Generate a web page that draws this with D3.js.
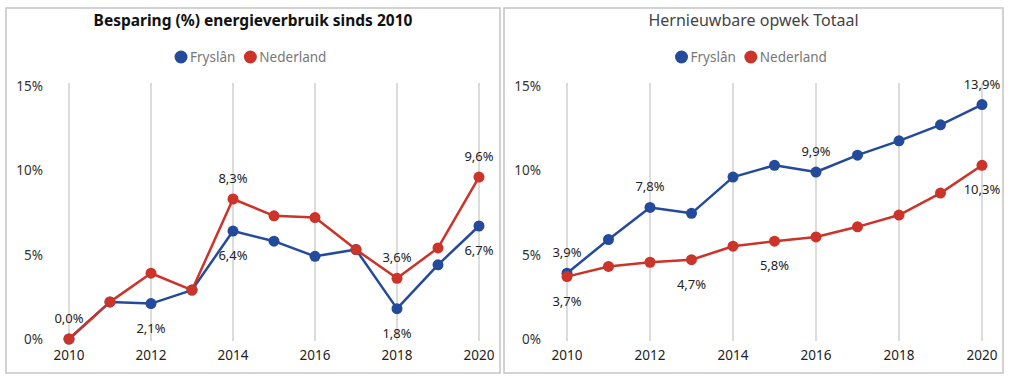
<!DOCTYPE html>
<html>
<head>
<meta charset="utf-8">
<script src="https://cdn.jsdelivr.net/npm/d3@7"></script>
<style>
  body { margin: 0; background: #fff; font-family: "Noto Sans", "Open Sans", sans-serif; }
</style>
</head>
<body>
<div id="chart"></div>
<script>
const years = [2010, 2011, 2012, 2013, 2014, 2015, 2016, 2017, 2018, 2019, 2020];
const yTicks = [0, 5, 10, 15];
const xTicks = [2010, 2012, 2014, 2016, 2018, 2020];

// besparing energieverbruik (%)
const besparingFryslan = [0.0, 2.2, 2.1, 2.9, 6.4, 5.8, 4.9, 5.3, 1.8, 4.4, 6.7];
const besparingNederland = [0.0, 2.2, 3.9, 2.9, 8.3, 7.3, 7.2, 5.3, 3.6, 5.4, 9.6];
// hernieuwbare opwek (%)
const opwekFryslan = [3.9, 5.9, 7.8, 7.45, 9.6, 10.3, 9.9, 10.9, 11.75, 12.7, 13.9];
const opwekNederland = [3.7, 4.3, 4.55, 4.7, 5.5, 5.8, 6.05, 6.65, 7.35, 8.65, 10.3];

// which points get a data label, and where
const besparingLabels = {
  fry: [2012, 2014, 2018, 2020], fryPos: 'below',
  ned: [2010, 2014, 2018, 2020], nedPos: 'above'
};
const opwekLabels = {
  fry: [2010, 2012, 2016, 2020], fryPos: 'above',
  ned: [2010, 2013, 2015, 2020], nedPos: 'below'
};

const blue = '#244b9b';
const red = '#cc3329';
const fmt = v => d3.format('.1f')(v).replace('.', ',') + '%';

const svg = d3.select('#chart').append('svg')
  .attr('width', 1016)
  .attr('height', 386);

function panel(opts) {
  const g = svg.append('g').attr('transform', `translate(${opts.left},0)`);

  g.append('rect')
    .attr('x', 0).attr('y', 8)
    .attr('width', opts.width).attr('height', 365)
    .attr('fill', '#fff')
    .attr('stroke', '#c4c4c4')
    .attr('stroke-width', 1.5);

  g.append('text')
    .attr('x', opts.width / 2)
    .attr('y', 26)
    .attr('text-anchor', 'middle')
    .attr('font-size', opts.bold ? 15.5 : 16)
    .attr('font-weight', opts.bold ? 700 : 400)
    .attr('fill', opts.bold ? '#111' : '#444')
    .text(opts.title);

  // legend
  const leg = g.append('g').attr('transform', `translate(${opts.width / 2},57)`);
  const items = [{name: 'Fryslân', color: blue}, {name: 'Nederland', color: red}];
  let lx = -72;
  items.forEach(it => {
    leg.append('circle').attr('cx', lx).attr('cy', 0).attr('r', 6.5).attr('fill', it.color);
    const t = leg.append('text')
      .attr('x', lx + 9).attr('y', 0)
      .attr('dominant-baseline', 'central')
      .attr('font-size', 13.5)
      .attr('fill', '#777')
      .text(it.name);
    lx += 9 + t.node().getComputedTextLength() + 15;
  });

  const x = d3.scaleLinear().domain([2010, 2020]).range([opts.x0, opts.x1]);
  const y = d3.scaleLinear().domain([0, 15]).range([339, 86]);

  // vertical gridlines
  g.append('g')
    .selectAll('line')
    .data(xTicks)
    .enter().append('line')
      .attr('x1', d => x(d)).attr('x2', d => x(d))
      .attr('y1', 83).attr('y2', 341)
      .attr('stroke', '#dcdcdc')
      .attr('stroke-width', 2);

  // y tick labels
  g.append('g')
    .selectAll('text')
    .data(yTicks)
    .enter().append('text')
      .attr('x', opts.yLabelX)
      .attr('y', d => y(d))
      .attr('dominant-baseline', 'central')
      .attr('text-anchor', 'end')
      .attr('font-size', 13.5)
      .attr('fill', '#333')
      .text(d => d + '%');

  // x tick labels
  g.append('g')
    .selectAll('text')
    .data(xTicks)
    .enter().append('text')
      .attr('x', d => x(d))
      .attr('y', 355)
      .attr('dominant-baseline', 'central')
      .attr('text-anchor', 'middle')
      .attr('font-size', 13.5)
      .attr('fill', '#222')
      .text(d => d);

  const line = d3.line().x(d => x(d.year)).y(d => y(d.value));

  opts.series.forEach(s => {
    const pts = years.map((yr, i) => ({year: yr, value: s.values[i]}));
    g.append('path')
      .datum(pts)
      .attr('d', line)
      .attr('fill', 'none')
      .attr('stroke', s.color)
      .attr('stroke-width', 2.5)
      .attr('stroke-linejoin', 'round');
    g.append('g')
      .selectAll('circle')
      .data(pts)
      .enter().append('circle')
        .attr('cx', d => x(d.year))
        .attr('cy', d => y(d.value))
        .attr('r', 5.5)
        .attr('fill', s.color);
  });

  // data labels
  opts.series.forEach(s => {
    const pts = years.map((yr, i) => ({year: yr, value: s.values[i]}))
      .filter(d => s.labels.includes(d.year));
    g.append('g')
      .selectAll('text')
      .data(pts)
      .enter().append('text')
        .attr('x', d => x(d.year))
        .attr('y', d => y(d.value) + (s.pos === 'above' ? -21 : 24))
        .attr('dominant-baseline', 'central')
        .attr('text-anchor', 'middle')
        .attr('font-size', 13)
        .attr('fill', '#222')
        .text(d => fmt(d.value));
  });
}

panel({
  left: 6, width: 494,
  title: 'Besparing (%) energieverbruik sinds 2010', bold: true,
  x0: 63, x1: 473, yLabelX: 37,
  series: [
    {values: besparingFryslan, color: blue, labels: besparingLabels.fry, pos: besparingLabels.fryPos},
    {values: besparingNederland, color: red, labels: besparingLabels.ned, pos: besparingLabels.nedPos}
  ]
});

panel({
  left: 504, width: 499,
  title: 'Hernieuwbare opwek Totaal', bold: false,
  x0: 63, x1: 478, yLabelX: 37,
  series: [
    {values: opwekFryslan, color: blue, labels: opwekLabels.fry, pos: opwekLabels.fryPos},
    {values: opwekNederland, color: red, labels: opwekLabels.ned, pos: opwekLabels.nedPos}
  ]
});
</script>
</body>
</html>
